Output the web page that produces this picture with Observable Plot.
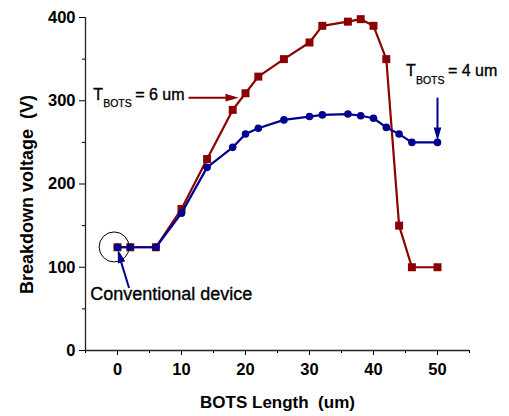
<!DOCTYPE html>
<html>
<head>
<meta charset="utf-8">
<script src="https://cdn.jsdelivr.net/npm/d3@7"></script>
<script src="https://cdn.jsdelivr.net/npm/@observablehq/plot@0.6"></script>
<style>
  html, body { margin: 0; padding: 0; background: #fff; }
  svg text { white-space: pre; }
</style>
</head>
<body>
<div id="chart"></div>
<script>
// BOTS length (um) at each measured device
const botsLength = [0, 2, 6, 10, 14, 18, 20, 22, 26, 30, 32, 36, 38, 40, 42, 44, 46, 50];
// Breakdown voltage (V) for T_BOTS = 6 um
const vbT6 = [124, 124, 124, 170, 230, 289, 309, 329, 350, 370, 390, 395, 398, 390, 350, 150, 100, 100];
// Breakdown voltage (V) for T_BOTS = 4 um
const vbT4 = [124, 124, 124, 165, 220, 244, 260, 267, 277, 281, 283, 284, 282, 279, 268, 260, 250, 250];

const xTicks = [0, 10, 20, 30, 40, 50];
const xMinorTicks = [-5, 5, 15, 25, 35, 45, 55];
const yTicks = [0, 100, 200, 300, 400];
const yMinorTicks = [50, 150, 250, 350];

const wine = "#8b0000";
const navy = "#000090";

const rowsT6 = botsLength.map((x, i) => ({x, v: vbT6[i]}));
const rowsT4 = botsLength.map((x, i) => ({x, v: vbT4[i]}));

// filled arrow head, tip at the origin, pointing up
const arrowHead = {
  draw(ctx, size) {
    const r = Math.sqrt(size / Math.PI);
    ctx.moveTo(0, 0);
    ctx.lineTo(-0.55 * r, 1.9 * r);
    ctx.lineTo(0.55 * r, 1.9 * r);
    ctx.closePath();
  }
};

const boldFont = {fontWeight: "bold"};
// annotation text: regular face, slightly heavier stroke
const noteFont = {fill: "black", stroke: "black", strokeWidth: 0.35};

// "T_BOTS = n um" label made of three text pieces
function tLabel(x, y, value) {
  const at = [{x, y}];
  const base = {x: "x", y: "y", textAnchor: "start", lineAnchor: "bottom", ...noteFont};
  return [
    Plot.text(at, {...base, text: () => "T", fontSize: 16}),
    Plot.text(at, {...base, text: () => "BOTS", fontSize: 10.5, dx: 10, dy: 7.5, strokeWidth: 0.25}),
    Plot.text(at, {...base, text: () => `= ${value} um`, fontSize: 16, dx: 42})
  ];
}

const chart = Plot.plot({
  width: 509,
  height: 416,
  marginLeft: 85,
  marginRight: 40,
  marginTop: 17,
  marginBottom: 66,
  style: {fontFamily: "'Liberation Sans', Arial, Helvetica, sans-serif", background: "white", color: "black"},
  x: {domain: [-5, 55]},
  y: {domain: [0, 400]},
  marks: [
    // axes
    Plot.axisY(yTicks, {tickSize: 6, tickPadding: 4, fontSize: 16.5, ...boldFont, label: null}),
    Plot.axisY(yMinorTicks, {tickSize: 3, tickFormat: () => "", label: null}),
    Plot.axisX(xTicks, {tickSize: 5, tickPadding: 8, fontSize: 16.5, ...boldFont, label: null}),
    Plot.axisX(xMinorTicks, {tickSize: 3, tickFormat: () => "", label: null}),
    Plot.ruleX([-5], {stroke: "#222", strokeWidth: 1.3}),
    Plot.ruleY([0], {stroke: "#222", strokeWidth: 1.3}),
    Plot.text(["BOTS Length  (um)"], {frameAnchor: "bottom", textAnchor: "middle", dy: 57, lineAnchor: "bottom", fontSize: 17, ...boldFont}),
    Plot.text(["Breakdown voltage  (V)"], {frameAnchor: "left", textAnchor: "middle", rotate: -90, dx: -52.3, dy: 10.5, lineAnchor: "bottom", fontSize: 18, ...boldFont}),

    // series
    Plot.line(rowsT6, {x: "x", y: "v", stroke: wine, strokeWidth: 2.2}),
    Plot.dot(rowsT6, {x: "x", y: "v", symbol: "square", r: 4.5, fill: wine}),
    Plot.line(rowsT4, {x: "x", y: "v", stroke: navy, strokeWidth: 2.2}),
    Plot.dot(rowsT4, {x: "x", y: "v", symbol: "circle", r: 3.8, fill: navy}),

    // T_BOTS = 6 um annotation
    ...tLabel(-3.8, 301, 6),
    Plot.link([{x1: 11.1, y1: 303.7, x2: 17.3, y2: 303.7}], {x1: "x1", y1: "y1", x2: "x2", y2: "y2", stroke: wine, strokeWidth: 2}),
    Plot.dot([{x: 18.94, y: 303.7}], {x: "x", y: "y", symbol: arrowHead, r: 7, rotate: 90, fill: wine}),

    // T_BOTS = 4 um annotation
    ...tLabel(45.06, 329.4, 4),
    Plot.link([{x1: 50, y1: 303.7, x2: 50, y2: 266}], {x1: "x1", y1: "y1", x2: "x2", y2: "y2", stroke: navy, strokeWidth: 2}),
    Plot.dot([{x: 50, y: 252}], {x: "x", y: "y", symbol: arrowHead, r: 7, rotate: 180, fill: navy}),

    // conventional device marker
    Plot.dot([{x: -0.53, y: 124.4}], {x: "x", y: "y", r: 15, stroke: "black", strokeWidth: 1, fill: "none"}),
    Plot.link([{x1: 1.81, y1: 75.1, x2: 0.5, y2: 108}], {x1: "x1", y1: "y1", x2: "x2", y2: "y2", stroke: navy, strokeWidth: 2}),
    Plot.dot([{x: 0.05, y: 121.2}], {x: "x", y: "y", symbol: arrowHead, r: 7, rotate: -16.4, fill: navy}),
    Plot.text([{x: -4.27, y: 61}], {x: "x", y: "y", text: () => "Conventional device", textAnchor: "start", lineAnchor: "bottom", fontSize: 18, ...noteFont})
  ]
});

document.getElementById("chart").appendChild(chart);
</script>
</body>
</html>
